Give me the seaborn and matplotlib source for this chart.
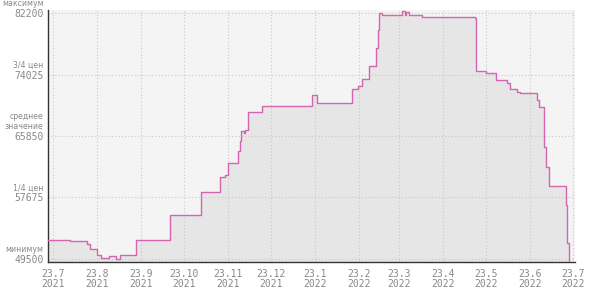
import matplotlib
matplotlib.use("Agg")
import matplotlib.pyplot as plt
import matplotlib.dates as mdates
import seaborn as sns
import pandas as pd

# ---- data ----
dates = [
    "2021-07-19", "2021-08-04", "2021-08-16", "2021-08-18", "2021-08-23", "2021-08-26",
    "2021-08-31", "2021-09-05", "2021-09-08", "2021-09-19", "2021-10-13", "2021-11-04",
    "2021-11-17", "2021-11-21", "2021-11-23", "2021-11-30", "2021-12-01", "2021-12-02",
    "2021-12-04", "2021-12-05", "2021-12-07", "2021-12-17", "2022-01-21", "2022-01-24",
    "2022-02-18", "2022-02-22", "2022-02-25", "2022-03-02", "2022-03-07", "2022-03-08",
    "2022-03-09", "2022-03-11", "2022-03-25", "2022-03-27", "2022-03-28", "2022-03-30",
    "2022-04-08", "2022-05-15", "2022-05-16", "2022-05-23", "2022-05-30", "2022-06-07",
    "2022-06-09", "2022-06-14", "2022-06-16", "2022-06-28", "2022-06-29", "2022-07-03",
    "2022-07-04", "2022-07-06", "2022-07-18", "2022-07-19", "2022-07-20", "2022-07-21",
]
prices = [
    52000, 51900, 51500, 50800, 50050, 49650,
    49850, 49500, 50050, 52000, 55350, 58450,
    60450, 60600, 62300, 63800, 65200, 66500,
    66200, 66600, 69080, 69830, 71300, 70270,
    72050, 72500, 73380, 75150, 77500, 80000,
    82200, 81890, 82500, 81900, 82400, 81890,
    81700, 81500, 74490, 74180, 73290, 72930,
    72050, 71650, 71520, 70600, 69740, 64430,
    61770, 59200, 56680, 51630, 49100, 49100,
]
y_ticks = [49500, 57675, 65850, 74025, 82200]
y_words = ["минимум", "1/4 цен", "среднее\nзначение", "3/4 цен", "максимум"]
x_tick_dates = ["2021-07-23", "2021-08-23", "2021-09-23", "2021-10-23", "2021-11-23",
                "2021-12-23", "2022-01-23", "2022-02-23", "2022-03-23", "2022-04-23",
                "2022-05-23", "2022-06-23", "2022-07-23"]
x_tick_labels = ["23.7\n2021", "23.8\n2021", "23.9\n2021", "23.10\n2021", "23.11\n2021",
                 "23.12\n2021", "23.1\n2022", "23.2\n2022", "23.3\n2022", "23.4\n2022",
                 "23.5\n2022", "23.6\n2022", "23.7\n2022"]

df = pd.DataFrame({"date": pd.to_datetime(dates), "price": prices})

sns.set_style("white")
fig = plt.figure(figsize=(5.9, 2.93), dpi=100)
ax = fig.add_axes([48 / 590, 31 / 293, (575 - 48) / 590, (262 - 10) / 293])
ax.set_facecolor("#f4f4f4")

line_color = "#d466b0"
ax.fill_between(df["date"], df["price"], 40000, step="post", color="#e6e6e6", lw=0, zorder=1)
sns.lineplot(data=df, x="date", y="price", ax=ax, color=line_color, lw=1,
             drawstyle="steps-post", zorder=3)

x0 = pd.Timestamp("2021-07-23") - pd.Timedelta(hours=84)
x1 = pd.Timestamp("2022-07-23") + pd.Timedelta(hours=34)
ax.set_xlim(x0, x1)
ax.set_ylim(49100, 82600)

xt = pd.to_datetime(x_tick_dates)
ax.set_xticks(xt)
ax.set_xticklabels(x_tick_labels, family="DejaVu Sans Mono", fontsize=7,
                   color="#888888", linespacing=1.05)
ax.set_yticks(y_ticks)
ax.set_yticklabels([str(v) for v in y_ticks], family="DejaVu Sans Mono", fontsize=7,
                   color="#888888")
ax.tick_params(axis="x", length=3, width=1, color="#333333", pad=2, direction="out")
ax.tick_params(axis="y", length=2, width=1, color="#333333", pad=1.2, direction="out")

for t in xt:
    ax.axvline(t, color="#c8c8c8", lw=0.8, ls=(0, (1, 2)), zorder=2)
for v in y_ticks:
    ax.axhline(v, color="#dcbcc9", lw=0.8, ls=(0, (1, 2)), zorder=2)

for v, w in zip(y_ticks, y_words):
    ax.annotate(w, xy=(0, v), xycoords=("axes fraction", "data"),
                xytext=(-3.2, 3.6), textcoords="offset points",
                ha="right", va="bottom", fontsize=5.6, color="#888888",
                family="DejaVu Sans", linespacing=1.15, annotation_clip=False)

for s in ["top", "right"]:
    ax.spines[s].set_visible(False)
for s in ["left", "bottom"]:
    ax.spines[s].set_color("#333333")
    ax.spines[s].set_linewidth(1)
ax.set_xlabel("")
ax.set_ylabel("")

fig.savefig("out.png", dpi=100, facecolor="white")
